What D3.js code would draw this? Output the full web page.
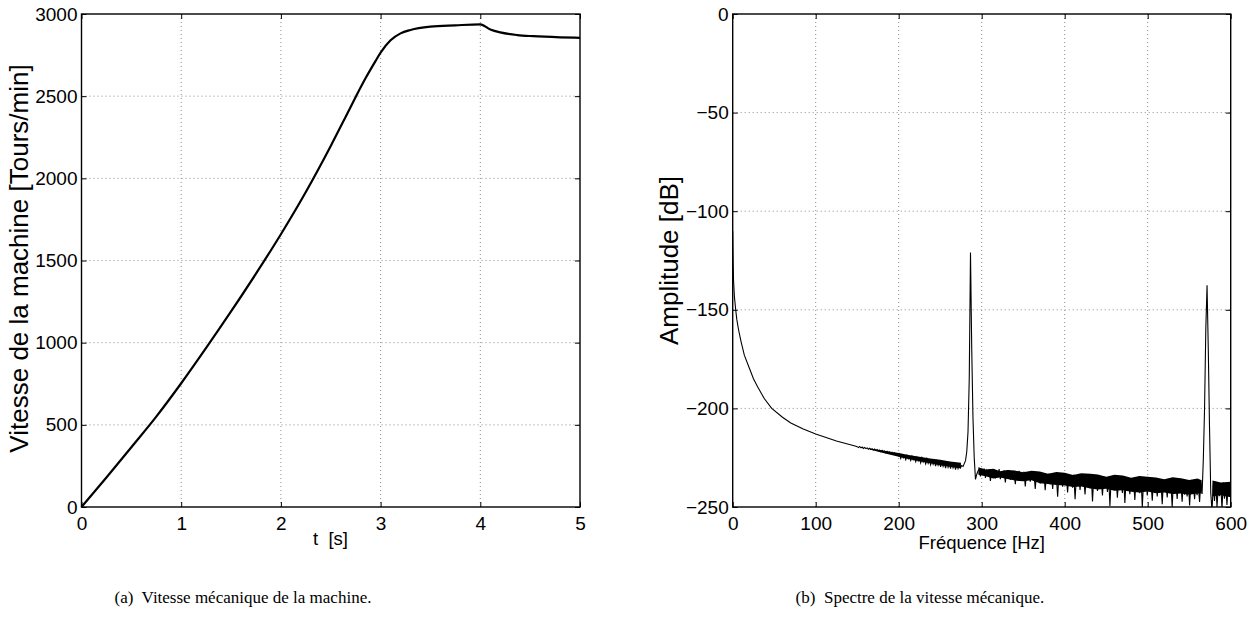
<!DOCTYPE html>
<html>
<head>
<meta charset="utf-8">
<script src="https://cdn.jsdelivr.net/npm/d3@7"></script>
<style>
  html, body { margin: 0; padding: 0; background: #fff; }
  svg { display: block; }
  .tick-label { font-family: "Liberation Sans", Arial, Helvetica, sans-serif; font-size: 19px; fill: #000; }
  .axis-label { font-family: "Liberation Sans", Arial, Helvetica, sans-serif; fill: #000; }
  .caption { font-family: "Liberation Serif", "Times New Roman", serif; font-size: 17px; fill: #000; }
</style>
</head>
<body>
<svg id="chart" width="1255" height="622"></svg>
<script>
// ---------------- DATA ----------------
// (a) Mechanical speed vs time
const speedTime = [0, 0.25, 0.5, 0.75, 1.0, 1.25, 1.5, 1.75, 2.0, 2.25, 2.5, 2.65, 2.75, 2.85, 2.95, 3.0, 3.1, 3.2, 3.3, 3.5, 3.75, 4.0, 4.1, 4.2, 4.37, 4.53, 4.8, 5.0];
const speedRpm  = [0, 180, 364, 550, 753, 968, 1190, 1420, 1660, 1917, 2197, 2375, 2495, 2610, 2715, 2765, 2840, 2882, 2903, 2923, 2931, 2937, 2906, 2888, 2872, 2865, 2858, 2855];
const speedXTicks = [0, 1, 2, 3, 4, 5];
const speedYTicks = [0, 500, 1000, 1500, 2000, 2500, 3000];

// (b) Spectrum of the mechanical speed
// low-frequency smooth part: [frequency Hz], [amplitude dB]
const specLowHz = [0, 0.5, 1, 2, 3.6, 5, 7, 10, 14, 20, 25, 30, 38, 47, 60, 70, 85, 100, 125, 148.5];
const specLowDb = [-110, -125, -135, -143, -150, -155, -160, -166, -173, -179.5, -185, -189, -195, -200, -204.5, -207.4, -210.5, -213, -216.5, -219.2];
// noisy part, bins of 1.5 Hz
const specBinHz = 1.5;
const specSegAStart = 150;
const specSegA = [-219.4, -219.9, -219.3, -220.0, -219.6, -220.3, -219.8, -220.4, -220.0, -220.7,
  -220.2, -220.9, -220.4, -221.1, -220.6, -221.4, -220.9, -221.6, -221.1, -221.9,
  -221.3, -222.2, -221.6, -222.5, -221.8, -222.7, -222.1, -223.0, -222.3, -223.3,
  -222.6, -223.6, -222.9, -224.0];
const specSegBStart = 201;
const specSegB = [-223.0, -225.4, -223.6, -225.1, -224.2, -226.0, -223.9, -225.6, -224.6, -226.4,
  -224.3, -226.1, -225.2, -227.0, -224.8, -226.6, -225.5, -227.6, -225.1, -227.2,
  -226.0, -228.1, -225.6, -227.9, -226.4, -228.6, -226.0, -228.4, -226.9, -229.3,
  -226.6, -228.8, -227.2, -229.7, -226.9, -229.4, -227.6, -230.3, -227.3, -229.9,
  -228.0, -230.6, -227.7, -230.2, -228.4, -231.0, -228.2, -230.5, -228.6, -230.1];
const peak1Hz = [276, 277.5, 279, 280.5, 282, 283.5, 285, 286.5, 288, 289.5, 291, 292.5, 294, 295.5];
const peak1Db = [-229.0, -229.4, -228.0, -226.5, -222, -212, -185, -121, -170, -205, -225, -236, -233.5, -231.8];
const specSegDStart = 297;
const specSegD = [-230.8, -234.5, -231.2, -233.9, -230.5, -235.2, -231.6, -233.4, -230.9, -236.8,
  -231.8, -234.1, -231.0, -235.5, -232.2, -234.7, -230.8, -235.9, -232.5, -234.0,
  -231.4, -237.6, -232.0, -235.1, -231.3, -236.2, -232.8, -234.6, -231.9, -238.4,
  -232.4, -235.8, -231.7, -236.5, -233.2, -235.0, -232.1, -239.6, -233.0, -236.3,
  -232.4, -237.1, -233.6, -235.7, -232.6, -240.8, -233.5, -236.9, -232.9, -238.0,
  -234.0, -236.4, -233.2, -241.5, -234.1, -237.3];
const specSegEStart = 381;
const specSegE = [-233.1, -238.6, -234.0, -240.9, -233.5, -237.2, -234.6, -244.8, -233.8, -238.1,
  -234.3, -239.7, -233.2, -237.8, -235.1, -242.6, -233.9, -238.9, -234.7, -240.2,
  -233.6, -246.1, -235.0, -238.4, -234.2, -241.3, -233.7, -239.0, -235.4, -243.7,
  -234.1, -238.7, -235.6, -240.5, -233.9, -247.2, -234.8, -239.3, -235.2, -241.8,
  -234.5, -238.9, -236.0, -244.1, -234.3, -240.0, -235.7, -242.4, -234.9, -249.5,
  -235.4, -239.6, -234.6, -241.1, -236.2, -245.3, -235.0, -240.4, -236.5, -242.9,
  -234.8, -248.0, -235.9, -240.7, -236.8, -243.5, -235.3, -241.2, -237.0, -246.4,
  -235.7, -240.9, -236.4, -243.0, -235.2, -250.0, -236.9, -241.6, -235.8, -244.2,
  -236.6, -241.0, -237.3, -246.8, -235.9, -242.3, -237.1, -244.7, -236.3, -241.5,
  -237.5, -248.6, -236.1, -242.0, -237.8, -245.1, -236.7, -241.9, -238.0, -250.0,
  -236.9, -243.2, -237.6, -245.9, -236.4, -242.5, -238.2, -247.3, -237.2, -243.8,
  -238.4, -244.6, -236.8, -249.2, -237.9, -242.7, -238.6, -246.0, -237.4, -244.0,
  -238.8, -247.5, -237.6, -243.4];
const peak2Hz = [567, 568.5, 570, 571.5, 573, 574.5, 576, 577.5];
const peak2Db = [-226, -200, -160, -137.5, -170, -210, -243, -252];
const specSegFStart = 579;
const specSegF = [-238.5, -246.9, -237.2, -250.0, -239.4, -244.5, -238.0, -251.0, -237.6, -245.8,
  -239.1, -249.0, -238.3, -243.9, -240.2];
// dense noise band (upper / lower edge of the solid black band)
const bandHz  = [165, 185, 200, 212, 225, 238, 250, 262, 275, null,
  296, 305, 314, 322, 331, 340, 350, 360, 370, 380, 390, 400, 410, 420, 431, 440, 450, 460, 470, 480,
  490, 500, 510, 520, 530, 540, 550, 560, 565, null, 578, 588, 600];
const bandTop = [-220.3, -221.6, -222.6, -223.6, -224.5, -225.4, -226.1, -226.9, -227.6, null,
  -229.9, -231.0, -230.6, -231.9, -231.2, -231.5, -232.4, -231.6, -232.0, -233.1, -232.3, -232.6, -233.8, -232.9, -233.2, -233.5, -234.6, -233.7, -234.0, -235.2,
  -234.3, -234.6, -235.0, -235.9, -234.9, -235.4, -236.3, -235.5, -236.4, null, -236.6, -237.6, -237.2];
const bandBot = [-220.9, -223.0, -224.5, -225.7, -226.8, -227.8, -228.8, -229.6, -230.5, null,
  -233.6, -234.4, -235.6, -235.1, -235.8, -236.6, -236.9, -236.4, -237.9, -238.3, -238.9, -239.1, -239.9, -239.6, -240.6, -241.1, -240.8, -241.8, -241.5, -242.3,
  -242.6, -242.1, -243.0, -242.7, -243.4, -243.1, -243.8, -243.2, -243.0, null, -244.5, -244.0, -245.0];
const specXTicks = [0, 100, 200, 300, 400, 500, 600];
const specYTicks = [0, -50, -100, -150, -200, -250];

// ---------------- DRAW ----------------
const svg = d3.select("#chart");
svg.append("rect").attr("width", 1255).attr("height", 622).attr("fill", "#fff");

function drawFrame(g, x, y, xTicks, yTicks, yFmt) {
  const [x0, x1] = x.range();
  const [y0, y1] = y.range(); // y0 bottom, y1 top
  const grid = g.append("g");
  xTicks.forEach(t => {
    const px = x(t);
    if (Math.abs(px - x0) < 1 || Math.abs(px - x1) < 1) return;
    grid.append("line").attr("x1", px).attr("x2", px).attr("y1", y1).attr("y2", y0)
      .attr("stroke", "#8c8c8c").attr("stroke-width", 1).attr("stroke-dasharray", "1,3");
  });
  yTicks.forEach(t => {
    const py = y(t);
    if (Math.abs(py - y0) < 1 || Math.abs(py - y1) < 1) return;
    grid.append("line").attr("x1", x0).attr("x2", x1).attr("y1", py).attr("y2", py)
      .attr("stroke", "#8c8c8c").attr("stroke-width", 1).attr("stroke-dasharray", "1,3");
  });
  const fmtY = yFmt || (d => d);
  const axB = g.append("g").attr("transform", `translate(0,${y0})`)
    .call(d3.axisBottom(x).tickValues(xTicks).tickSizeInner(-5).tickSizeOuter(0).tickPadding(10).tickFormat(d => d));
  const axT = g.append("g").attr("transform", `translate(0,${y1})`)
    .call(d3.axisTop(x).tickValues(xTicks).tickSizeInner(-5).tickSizeOuter(0).tickFormat(""));
  const axL = g.append("g").attr("transform", `translate(${x0},0)`)
    .call(d3.axisLeft(y).tickValues(yTicks).tickSizeInner(-5).tickSizeOuter(0).tickPadding(4).tickFormat(fmtY));
  const axR = g.append("g").attr("transform", `translate(${x1},0)`)
    .call(d3.axisRight(y).tickValues(yTicks).tickSizeInner(-5).tickSizeOuter(0).tickFormat(""));
  [axB, axT, axL, axR].forEach(a => {
    a.select(".domain").remove();
    a.selectAll(".tick line").attr("stroke", "#000").attr("stroke-width", 1);
    a.selectAll("text").attr("class", "tick-label").attr("font-size", null).attr("font-family", null);
  });
  axB.selectAll("text").attr("dy", "0.71em");
}

function drawBox(g, x, y) {
  const [x0, x1] = x.range();
  const [y0, y1] = y.range();
  g.append("rect").attr("x", x0).attr("y", y1).attr("width", x1 - x0).attr("height", y0 - y1)
    .attr("fill", "none").attr("stroke", "#000").attr("stroke-width", 1.4);
}

// ----- Plot (a) -----
const xa = d3.scaleLinear().domain([0, 5]).range([81.5, 580]);
const ya = d3.scaleLinear().domain([0, 3000]).range([507, 14]);
const ga = svg.append("g");
drawFrame(ga, xa, ya, speedXTicks, speedYTicks);
ga.append("path")
  .datum(speedTime.map((t, i) => [t, speedRpm[i]]))
  .attr("fill", "none").attr("stroke", "#000").attr("stroke-width", 2.2)
  .attr("stroke-linejoin", "round")
  .attr("d", d3.line().x(d => xa(d[0])).y(d => ya(d[1])).curve(d3.curveMonotoneX));
drawBox(ga, xa, ya);
ga.append("text").attr("class", "axis-label").attr("font-size", 18.5)
  .attr("x", 330.5).attr("y", 545).attr("text-anchor", "middle")
  .attr("xml:space", "preserve").text("t  [s]");
ga.append("text").attr("class", "axis-label").attr("font-size", 26)
  .attr("transform", "translate(28,258.5) rotate(-90)").attr("text-anchor", "middle")
  .text("Vitesse de la machine [Tours/min]");

// ----- Plot (b) -----
const xb = d3.scaleLinear().domain([0, 600]).range([732.7, 1230.7]);
const yb = d3.scaleLinear().domain([-250, 0]).range([507, 14]);
const gb = svg.append("g");
drawFrame(gb, xb, yb, specXTicks, specYTicks, d => d < 0 ? "\u2212" + Math.abs(d) : d);

const specPts = [];
specLowHz.forEach((f, i) => specPts.push([f, specLowDb[i]]));
function addSeg(start, vals) { vals.forEach((v, i) => specPts.push([start + i * specBinHz, v])); }
addSeg(specSegAStart, specSegA);
addSeg(specSegBStart, specSegB);
peak1Hz.forEach((f, i) => specPts.push([f, peak1Db[i]]));
addSeg(specSegDStart, specSegD);
addSeg(specSegEStart, specSegE);
peak2Hz.forEach((f, i) => specPts.push([f, peak2Db[i]]));
addSeg(specSegFStart, specSegF);
specPts.sort((a, b) => a[0] - b[0]);

svg.append("clipPath").attr("id", "clipB").append("rect")
  .attr("x", 732.7).attr("y", 14).attr("width", 498).attr("height", 493);

const bandData = bandHz.map((f, i) => ({ f, top: bandTop[i], bot: bandBot[i] }));
gb.append("path")
  .datum(bandData)
  .attr("clip-path", "url(#clipB)")
  .attr("fill", "#000").attr("stroke", "none")
  .attr("d", d3.area().defined(d => d.f !== null)
    .x(d => xb(d.f)).y0(d => yb(d.bot)).y1(d => yb(d.top)));
gb.append("path")
  .datum(specPts)
  .attr("clip-path", "url(#clipB)")
  .attr("fill", "none").attr("stroke", "#000").attr("stroke-width", 1.1)
  .attr("stroke-linejoin", "miter")
  .attr("d", d3.line().x(d => xb(d[0])).y(d => yb(d[1])));
drawBox(gb, xb, yb);
gb.append("text").attr("class", "axis-label").attr("font-size", 18.5)
  .attr("x", 981.7).attr("y", 549).attr("text-anchor", "middle")
  .text("Fréquence [Hz]");
gb.append("text").attr("class", "axis-label").attr("font-size", 26)
  .attr("transform", "translate(678,260.5) rotate(-90)").attr("text-anchor", "middle")
  .text("Amplitude [dB]");

// ----- Captions -----
svg.append("text").attr("class", "caption").attr("x", 243).attr("y", 603)
  .attr("text-anchor", "middle").attr("xml:space", "preserve").text("(a)  Vitesse mécanique de la machine.");
svg.append("text").attr("class", "caption").attr("x", 920).attr("y", 603)
  .attr("text-anchor", "middle").attr("xml:space", "preserve").text("(b)  Spectre de la vitesse mécanique.");
</script>
</body>
</html>
